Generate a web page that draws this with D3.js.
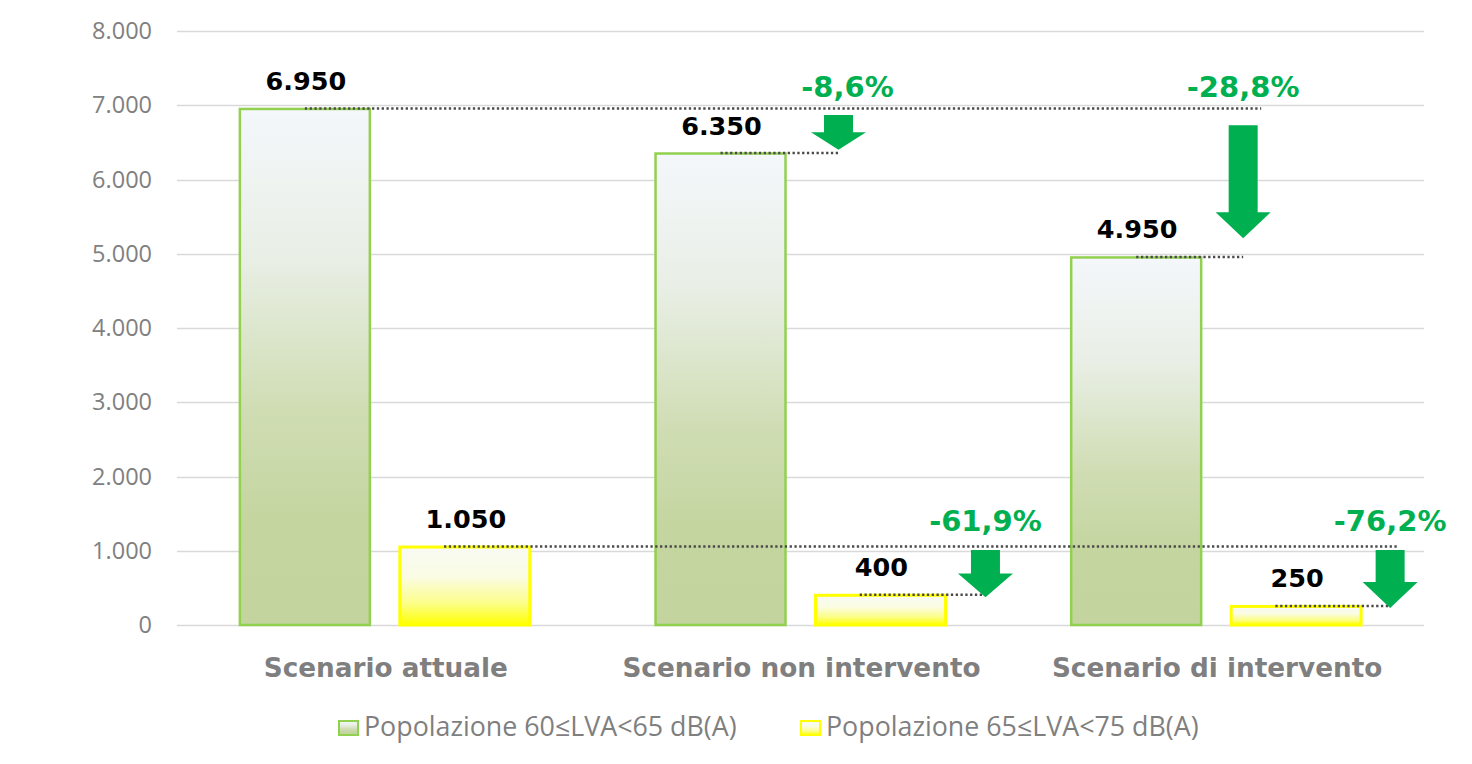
<!DOCTYPE html>
<html>
<head>
<meta charset="utf-8">
<script src="https://cdn.jsdelivr.net/npm/d3@7"></script>
<style>
  html, body { margin: 0; padding: 0; background: #ffffff; }
  svg { display: block; }
</style>
</head>
<body>
<svg id="chart" width="1472" height="764"></svg>
<script>
// ---------------- DATA ----------------
const categories = ["Scenario attuale", "Scenario non intervento", "Scenario di intervento"];
const seriesNames = ["Popolazione 60\u2264LVA<65 dB(A)", "Popolazione 65\u2264LVA<75 dB(A)"];
const values60_65 = [6950, 6350, 4950];
const values65_75 = [1050, 400, 250];
const yTicks = [0, 1000, 2000, 3000, 4000, 5000, 6000, 7000, 8000];
// arrows (value span) for [series][group-1]
const arrowFrom60 = [6870, 6730];
const arrowTo60 = [6400, 5210];
const arrowFrom65 = [1010, 1010];
const arrowTo65 = [375, 230];

// ---------------- LAYOUT ----------------
const W = 1472, H = 764;
const plot = { left: 177, right: 1424, top: 31, bottom: 625 };
const arrowDx = [[53, 42], [40, 29]];   // arrow centre offset from bar right edge
const lineStartFrac = [0.5, 0.34];      // dotted line start inside bar
const baseLineExtra = [18, 8];          // how far reference line passes last arrow
const colors = {
  grid: "#D9D9D9", tick: "#808080", cat: "#7F7F7F",
  green: "#00B050", dots: "#4a4a4a",
  border: ["#92D050", "#FFFF00"]
};

const seriesValues = [values60_65, values65_75];

const svg = d3.select("#chart");
const locale = d3.formatLocale({ decimal: ",", thousands: ".", grouping: [3], currency: ["€", ""], minus: "-" });
const fmtInt = locale.format(",d");
const fmtPct = locale.format(".1f");

const y = d3.scaleLinear().domain([0, 8000]).range([plot.bottom, plot.top]);
const x0 = d3.scaleBand().domain(categories).range([plot.left, plot.right]).padding(0);
const x1 = d3.scaleBand().domain(d3.range(seriesNames.length)).range([0, x0.bandwidth()])
  .paddingInner(0.1875).paddingOuter(0.393);

// gradients
const defs = svg.append("defs");
const gradSpecs = [
  [["0%", "#F4F7FB"], ["28%", "#E9EFE6"], ["58%", "#D0DDB4"], ["80%", "#C4D59F"], ["100%", "#C3D49E"]],
  [["0%", "#F8FAF3"], ["38%", "#FAFCE4"], ["72%", "#FCFE8A"], ["100%", "#FFFF00"]]
];
gradSpecs.forEach((stops, i) => {
  const g = defs.append("linearGradient").attr("id", "grad" + i)
    .attr("x1", 0).attr("y1", 0).attr("x2", 0).attr("y2", 1);
  stops.forEach(s => g.append("stop").attr("offset", s[0]).attr("stop-color", s[1]));
});

// grid + y-axis
const yAxis = d3.axisLeft(y).tickValues(yTicks).tickFormat(fmtInt).tickSize(0).tickPadding(0);
const gy = svg.append("g").attr("transform", `translate(${plot.left - 25},0)`).call(yAxis);
gy.select(".domain").remove();
gy.selectAll("text").attr("fill", colors.tick).style("font-family", "'Open Sans', sans-serif")
  .style("font-size", "23.5px");

svg.append("g").selectAll("line").data(yTicks).join("line")
  .attr("x1", plot.left).attr("x2", plot.right)
  .attr("y1", d => Math.round(y(d)) + 0.5).attr("y2", d => Math.round(y(d)) + 0.5)
  .attr("stroke", colors.grid).attr("stroke-width", 1.5);

// bars
const barX = (s, g) => x0(categories[g]) + x1(s);
const bw = x1.bandwidth();
const bars = [];
seriesValues.forEach((vals, s) => vals.forEach((v, g) => bars.push({ s, g, v })));

svg.append("g").selectAll("rect").data(bars).join("rect")
  .attr("x", d => barX(d.s, d.g))
  .attr("y", d => y(d.v))
  .attr("width", bw)
  .attr("height", d => y(0) - y(d.v))
  .attr("fill", d => `url(#grad${d.s})`)
  .attr("stroke", d => colors.border[d.s])
  .attr("stroke-width", d => d.s === 0 ? 2.5 : 3);

// value labels
svg.append("g").selectAll("text").data(bars).join("text")
  .attr("x", d => barX(d.s, d.g) + bw / 2 + 1)
  .attr("y", d => y(d.v) - 19)
  .attr("text-anchor", "middle")
  .style("font-family", "'DejaVu Sans', sans-serif").style("font-weight", "bold")
  .style("font-size", "25.5px").attr("fill", "#000")
  .text(d => fmtInt(d.v));

// arrows & dotted lines
const arrowSpans = [[arrowFrom60, arrowTo60], [arrowFrom65, arrowTo65]];
const arrows = [];
seriesValues.forEach((vals, s) => {
  for (let g = 1; g < vals.length; g++) {
    arrows.push({
      s, g,
      cx: barX(s, g) + bw + arrowDx[s][g - 1],
      y0: y(arrowSpans[s][0][g - 1]),
      y1: y(arrowSpans[s][1][g - 1]),
      pct: (vals[g] - vals[0]) / vals[0] * 100,
      ref: vals[0]
    });
  }
});

const dotted = [];
seriesValues.forEach((vals, s) => {
  const last = arrows.filter(a => a.s === s).slice(-1)[0];
  dotted.push({ x1: barX(s, 0) + bw * lineStartFrac[s], x2: last.cx + baseLineExtra[s], v: vals[0] });
  arrows.filter(a => a.s === s).forEach(a => {
    dotted.push({ x1: barX(s, a.g) + bw * lineStartFrac[s], x2: a.cx, v: vals[a.g] });
  });
});

svg.append("g").selectAll("line").data(dotted).join("line")
  .attr("x1", d => d.x1).attr("x2", d => d.x2)
  .attr("y1", d => y(d.v) - 0.5).attr("y2", d => y(d.v) - 0.5)
  .attr("stroke", colors.dots).attr("stroke-width", 2.4).attr("stroke-dasharray", "2.3 2.5");

const shaftW = 29, headW = 55;
svg.append("g").selectAll("path").data(arrows).join("path")
  .attr("d", d => {
    const len = d.y1 - d.y0;
    const hl = Math.min(26, len * 0.5);
    const hb = d.y1 - hl;
    return `M${d.cx - shaftW / 2},${d.y0} L${d.cx + shaftW / 2},${d.y0} L${d.cx + shaftW / 2},${hb}` +
      ` L${d.cx + headW / 2},${hb} L${d.cx},${d.y1} L${d.cx - headW / 2},${hb} L${d.cx - shaftW / 2},${hb} Z`;
  })
  .attr("fill", colors.green);

svg.append("g").selectAll("text").data(arrows).join("text")
  .attr("x", d => d.cx + (d.g === 1 && d.s === 0 ? 9 : 0))
  .attr("y", d => y(d.ref) - (d.s === 0 ? 12 : 16))
  .attr("text-anchor", "middle")
  .style("font-family", "'DejaVu Sans', sans-serif").style("font-weight", "bold")
  .style("font-size", "29px").attr("fill", colors.green)
  .text(d => fmtPct(d.pct) + "%");

// category labels
svg.append("g").selectAll("text").data(categories).join("text")
  .attr("x", d => x0(d) + x0.bandwidth() / 2 + 1)
  .attr("y", 677)
  .attr("text-anchor", "middle")
  .style("font-family", "'DejaVu Sans', sans-serif").style("font-weight", "bold")
  .style("font-size", "26.3px").attr("fill", colors.cat)
  .text(d => d);

// legend
const legendX = [338, 800];
const lg = svg.append("g").selectAll("g").data(seriesNames).join("g")
  .attr("transform", (d, i) => `translate(${legendX[i]},0)`);
lg.append("rect").attr("x", 1).attr("y", 721).attr("width", 19).attr("height", 14)
  .attr("fill", (d, i) => `url(#grad${i})`)
  .attr("stroke", (d, i) => colors.border[i]).attr("stroke-width", 2);
lg.append("text").attr("x", 26).attr("y", 736)
  .style("font-family", "'Open Sans', sans-serif").style("font-size", "26.8px")
  .attr("fill", colors.cat).text(d => d);
</script>
</body>
</html>
